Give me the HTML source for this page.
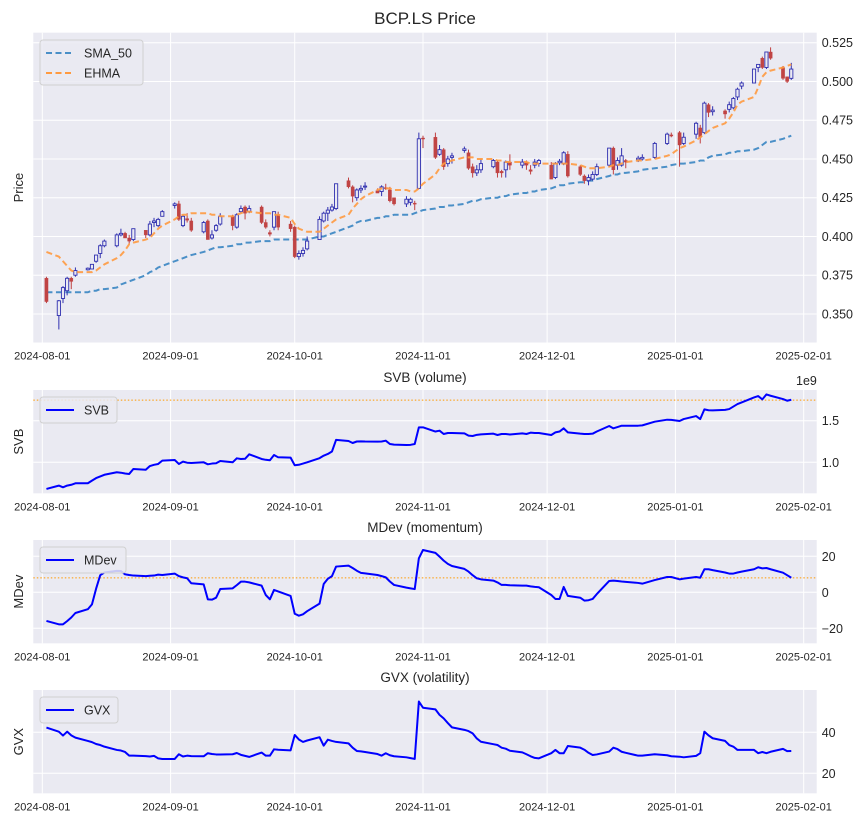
<!DOCTYPE html>
<html><head><meta charset="utf-8"><title>BCP.LS Price</title>
<style>
html,body{margin:0;padding:0;background:#fff;}
svg{display:block;font-family:"Liberation Sans",sans-serif;}
</style></head>
<body>
<svg id="chart" width="864" height="826" viewBox="0 0 864 826" xmlns="http://www.w3.org/2000/svg"></svg>
<script>
const dayOffsets=[1,4,5,6,7,8,11,12,13,14,15,18,19,20,21,22,25,26,27,28,29,32,33,34,35,36,39,40,41,42,43,46,47,48,49,50,53,54,55,56,57,60,61,62,63,64,67,68,69,70,71,74,75,76,77,78,81,82,83,84,85,88,89,90,91,92,95,96,97,98,99,102,103,104,105,106,109,110,111,112,113,116,117,118,119,120,123,124,125,126,127,130,131,132,133,134,137,138,139,140,141,144,145,148,151,152,154,155,158,159,160,161,162,165,166,167,168,169,172,173,174,175,176,179,180,181];
const openP=[.373,.349,.360,.365,.373,.375,.3785,.379,.384,.389,.394,.394,.401,.402,.399,.398,.404,.401,.409,.407,.413,.420,.421,.407,.4115,.410,.403,.410,.399,.404,.408,.413,.406,.416,.419,.416,.419,.409,.4025,.406,.414,.408,.406,.387,.389,.392,.398,.410,.415,.417,.418,.436,.432,.425,.430,.432,.4295,.429,.4315,.430,.425,.421,.422,.4215,.431,.4635,.464,.453,.456,.447,.451,.4555,.454,.445,.441,.443,.445,.448,.442,.443,.448,.446,.448,.443,.446,.447,.446,.438,.4475,.447,.453,.445,.439,.436,.437,.440,.446,.457,.446,.446,.449,.4495,.450,.451,.460,.4655,.467,.460,.466,.470,.467,.485,.4805,.481,.482,.483,.490,.497,.499,.509,.515,.509,.519,.509,.503,.502];
const closeP=[.358,.3585,.367,.373,.371,.378,.3795,.382,.388,.394,.397,.401,.402,.399,.397,.405,.401,.408,.410,.411,.416,.421,.411,.413,.4105,.404,.409,.398,.401,.407,.413,.407,.414,.418,.415,.418,.409,.406,.4015,.416,.406,.405,.387,.389,.391,.397,.411,.415,.417,.419,.434,.432,.426,.430,.431,.4325,.428,.432,.431,.423,.421,.424,.424,.421,.463,.463,.451,.456,.445,.450,.452,.4565,.444,.441,.443,.447,.449,.441,.441,.448,.446,.448,.446,.442,.448,.449,.437,.447,.4485,.454,.439,.440,.436,.438,.440,.445,.457,.443,.449,.452,.448,.4505,.451,.460,.466,.4648,.459,.464,.473,.464,.486,.480,.4815,.479,.485,.489,.495,.499,.508,.511,.509,.519,.515,.502,.500,.508];
const highP=[.374,.359,.368,.374,.374,.380,.380,.382,.388,.395,.398,.402,.405,.403,.401,.405,.404,.410,.412,.412,.417,.422,.423,.414,.415,.412,.410,.411,.404,.408,.415,.414,.415,.420,.420,.420,.420,.411,.404,.416,.416,.410,.407,.391,.393,.400,.413,.416,.419,.421,.434,.438,.433,.431,.433,.435,.431,.433,.434,.432,.425,.426,.425,.423,.467,.465,.467,.459,.457,.452,.454,.458,.456,.447,.446,.450,.450,.449,.443,.449,.453,.450,.449,.446,.450,.450,.448,.448,.450,.455,.455,.446,.440,.440,.442,.447,.457,.458,.451,.457,.450,.452,.453,.461,.467,.467,.468,.467,.474,.472,.487,.486,.484,.482,.487,.490,.496,.500,.508,.511,.516,.519,.522,.510,.503,.512];
const lowP=[.357,.340,.357,.362,.366,.374,.378,.379,.383,.386,.393,.393,.400,.399,.395,.397,.399,.400,.406,.406,.413,.418,.410,.406,.409,.403,.402,.398,.398,.403,.407,.404,.405,.415,.411,.415,.408,.405,.400,.404,.404,.403,.386,.385,.387,.391,.398,.409,.410,.416,.417,.431,.422,.423,.428,.430,.428,.426,.430,.422,.420,.419,.420,.417,.431,.457,.450,.452,.443,.445,.447,.454,.443,.438,.439,.441,.444,.438,.438,.438,.443,.444,.443,.440,.444,.445,.437,.437,.446,.446,.438,.439,.434,.433,.436,.439,.445,.440,.443,.445,.444,.448,.449,.450,.459,.464,.445,.459,.463,.460,.466,.477,.478,.476,.480,.482,.488,.495,.499,.506,.508,.508,.514,.501,.499,.501];
const sma50=[.364,.364,.364,.364,.364,.364,.364,.365,.365,.366,.366,.367,.369,.370,.371,.372,.375,.377,.378,.380,.381,.384,.385,.386,.387,.388,.390,.391,.392,.393,.393,.394,.395,.395,.396,.396,.397,.397,.397,.398,.398,.398,.398,.398,.398,.398,.400,.400,.401,.402,.403,.406,.407,.409,.410,.410,.412,.412,.413,.413,.414,.414,.414,.415,.416,.417,.418,.419,.419,.420,.420,.421,.422,.423,.423,.424,.425,.425,.426,.426,.427,.428,.428,.429,.429,.430,.431,.432,.433,.433,.434,.435,.435,.436,.436,.437,.439,.440,.440,.441,.441,.442,.443,.444,.445,.446,.447,.447,.448,.449,.449,.451,.452,.453,.454,.454,.455,.455,.456,.457,.459,.461,.461,.463,.464,.465];
const ehma=[.390,.387,.384,.381,.378,.377,.377,.377,.378,.380,.382,.386,.388,.391,.395,.396,.398,.399,.402,.405,.407,.411,.413,.414,.414,.415,.415,.415,.414,.414,.413,.413,.414,.415,.416,.416,.415,.415,.415,.414,.414,.412,.408,.405,.404,.403,.403,.405,.407,.409,.411,.414,.418,.421,.424,.426,.430,.431,.431,.431,.430,.430,.429,.429,.431,.434,.440,.444,.447,.448,.449,.451,.451,.451,.450,.450,.450,.449,.449,.448,.448,.448,.448,.447,.447,.447,.447,.447,.447,.447,.447,.446,.445,.444,.444,.444,.445,.446,.446,.447,.448,.449,.449,.450,.452,.453,.457,.458,.462,.464,.466,.468,.470,.473,.476,.480,.485,.487,.490,.496,.503,.506,.507,.509,.510,.511];
const svb=[.68,.72,.70,.72,.73,.748,.748,.78,.81,.83,.85,.88,.875,.865,.86,.92,.91,.955,.97,.98,1.02,1.028,.98,1.008,.995,.992,1.00,.976,.985,.988,1.016,1.00,1.048,1.04,1.042,1.096,1.04,1.03,1.025,1.088,1.06,1.056,.964,.97,.985,1.0,1.05,1.08,1.10,1.13,1.27,1.256,1.232,1.25,1.252,1.25,1.248,1.25,1.26,1.22,1.212,1.208,1.21,1.22,1.42,1.42,1.37,1.38,1.34,1.352,1.352,1.348,1.32,1.316,1.33,1.336,1.344,1.328,1.34,1.34,1.334,1.348,1.34,1.356,1.352,1.352,1.328,1.36,1.37,1.408,1.36,1.344,1.34,1.34,1.344,1.37,1.436,1.408,1.424,1.44,1.44,1.44,1.444,1.488,1.512,1.51,1.496,1.52,1.556,1.52,1.636,1.626,1.624,1.63,1.64,1.67,1.70,1.72,1.78,1.796,1.756,1.816,1.80,1.76,1.74,1.752];
const svbRef=1.748;
const mdev=[-15.9,-17.8,-17.8,-16,-14,-11.5,-9.4,-6.7,2,9.5,11,11.9,11.8,10,9.6,9.3,9,9.2,9.3,9.8,9.6,10.4,9,8.3,7.8,5,4.4,-3.9,-4.1,-3,1.8,2.2,4,5.9,5.9,5.5,3.7,-1.5,-3.9,1.3,0.5,-2,-11.9,-13,-12.2,-10.5,-6.3,4.6,7.5,9,14.3,14.8,13.5,12,10.8,10.5,9.6,9,8.3,6,4.1,2.6,2.2,1.8,18.9,23.5,21.9,19.8,17.6,15.8,14.6,13,11.5,9.5,7.8,7.2,6.5,5.5,4.1,4.1,3.9,3.7,3.7,3.3,3,2.8,-1.5,-3.7,-3.7,3,-2,-3,-4.6,-4.4,-3.7,-1,6.3,6.5,6.3,6,5.8,5.2,4.8,6.8,8.5,8.5,7.2,7.6,8.5,8.1,12.8,12.8,12.3,11,10.4,10.4,11,11.5,12.8,13.9,13.3,13.5,12.8,10.9,9.5,8.1];
const mdevRef=8;
const gvx=[42.3,40.3,38.4,40.3,38.5,37.4,35.8,35.2,34.3,33.8,33,31.4,31.1,30.4,28.6,28.6,28.4,28.2,28.5,27.3,27,27,29.3,28.2,28.6,28.4,28.3,29.8,29.4,29.2,29.2,29.3,29.9,29,28.5,28,30.1,28.6,28.6,31.7,31.5,31.2,38.7,36.5,35.3,36,37.6,33.5,36.4,35.8,35.3,34.6,32.5,30.9,30.7,30.4,29.4,28.6,29.8,28.8,28.3,27.8,27.4,27,55,52,51.2,48.5,46.8,44.5,42.4,41.2,40.6,39.5,37,35.4,34.2,33.8,32.5,32,31,30.2,29.3,28.3,27.5,27.3,29.8,31.4,29.8,29.8,33.3,32.5,31.5,30,28.9,29.2,30.6,32.5,31.8,30.5,30,28.6,28.6,29.3,28.8,28.3,28.1,27.8,28.5,29.8,40.3,38.5,37.1,35.8,33.8,33,31.4,31.4,31.4,29.8,30.4,29.8,30.5,31.9,30.8,30.9];
const xTickLabels=["2024-08-01","2024-09-01","2024-10-01","2024-11-01","2024-12-01","2025-01-01","2025-02-01"];
const xTickDays=[0,31,61,92,122,153,184];
const priceTicks=[0.350,0.375,0.400,0.425,0.450,0.475,0.500,0.525];
const svbTicks=[1.0,1.5];
const mdevTicks=[-20,0,20];
const gvxTicks=[20,40];

const NS="http://www.w3.org/2000/svg";
const svg=document.getElementById('chart');
const PL=33.3, PR=816.7;
function xDay(d){return 42.3+d*4.138;}
function mk(tag,attrs,parent,text){const e=document.createElementNS(NS,tag);for(const k in attrs)e.setAttribute(k,attrs[k]);if(text!==undefined)e.textContent=text;(parent||svg).appendChild(e);return e;}

const panels=[
 {key:'price',top:32.7,bot:342.5,y:v=>42.7+(0.525-v)/0.025*38.75,ticks:priceTicks,fmt:v=>v.toFixed(3),ylabel:'Price',title:null},
 {key:'svb',top:390,bot:493.3,y:v=>420.7+(1.5-v)*83.2,ticks:svbTicks,fmt:v=>v.toFixed(1),ylabel:'SVB',title:'SVB (volume)'},
 {key:'mdev',top:540,bot:643.3,y:v=>592.3-v*1.8,ticks:mdevTicks,fmt:v=>v.toFixed(0).replace('-','\u2212'),ylabel:'MDev',title:'MDev (momentum)'},
 {key:'gvx',top:690,bot:793.3,y:v=>732.3-(v-40)*2.05,ticks:gvxTicks,fmt:v=>v.toFixed(0),ylabel:'GVX',title:'GVX (volatility)'}
];

const mt=mk('text',{x:425,y:24,'text-anchor':'middle','font-size':17,fill:'#262626'},svg,'BCP.LS Price');



panels.forEach(p=>{
  const g=mk('g',{});
  
  
  const bg=mk('rect',{x:PL,y:p.top,width:PR-PL,height:p.bot-p.top,fill:'#eaeaf2'},g);
  
  
  xTickDays.forEach((d,i)=>{
    const x=xDay(d);
    const gl=mk('line',{x1:x,x2:x,y1:p.top,y2:p.bot,stroke:'#fff','stroke-width':1},g);
    
    
    const t=mk('text',{x:x,y:p.bot+17,'text-anchor':'middle','font-size':11,fill:'#262626'},g,xTickLabels[i]);
    
    
  });
  p.ticks.forEach(v=>{
    const y=p.y(v);
    const gl=mk('line',{x1:PL,x2:PR,y1:y,y2:y,stroke:'#fff','stroke-width':1},g);
    
    
    const t=mk('text',{x:PR+5,y:y+4.5,'font-size':12.5,fill:'#262626'},g,p.fmt(v));
    
    
  });
  const cy=(p.top+p.bot)/2;
  const yl=mk('text',{x:0,y:0,transform:`translate(23,${cy}) rotate(-90)`,'text-anchor':'middle','font-size':13,fill:'#262626'},g,p.ylabel);
  
  
  if(p.title){
    const tt=mk('text',{x:425,y:p.top-8,'text-anchor':'middle','font-size':13.5,fill:'#262626'},g,p.title);
    
    
  }
  p.g=g;
});

// price panel
const pp=panels[0];
function linePath(vals,yf){return vals.map((v,i)=>(i?'L':'M')+xDay(dayOffsets[i]).toFixed(2)+','+yf(v).toFixed(2)).join(' ');}
const smaL=mk('path',{d:linePath(sma50,pp.y),fill:'none',stroke:'#4a8fc7','stroke-width':2,'stroke-dasharray':'6,3.5'},pp.g);


const candG=mk('g',{},pp.g);


dayOffsets.forEach((d,i)=>{
  const x=xDay(d);const o=openP[i],c=closeP[i];const up=c>=o;
  const col=up?'#3030b0':'#c04040';
  const w=mk('line',{x1:x,x2:x,y1:pp.y(highP[i]),y2:pp.y(lowP[i]),stroke:col,'stroke-width':1},candG);
  
  
  const yt=pp.y(Math.max(o,c)),yb=pp.y(Math.min(o,c));
  const r=mk('rect',{x:x-1.6,y:yt,width:3.2,height:Math.max(1,yb-yt),fill:up?'#eaeaf2':'#c04444',stroke:col,'stroke-width':up?0.9:0.4},candG);
  
  
});
const ehL=mk('path',{d:linePath(ehma,pp.y),fill:'none',stroke:'#ff9a40','stroke-width':2,'stroke-dasharray':'6,3.5','stroke-opacity':0.9},pp.g);



function legend(g,x,y,w,h,items,name){
  const lg=mk('g',{},g);
  
  
  mk('rect',{x:x,y:y,width:w,height:h,rx:3,fill:'#eaeaf2','fill-opacity':0.85,stroke:'#d0d0d0','stroke-width':1},lg);
  items.forEach((it,i)=>{
    const yy=y+13+i*20;
    const ln=mk('line',{x1:x+6,x2:x+34,y1:yy,y2:yy,stroke:it.c,'stroke-width':2,'stroke-dasharray':it.dash||'none'},lg);
    
    
    const t=mk('text',{x:x+44,y:yy+4.5,'font-size':12.5,fill:'#262626'},lg,it.t);
    
    
  });
}
legend(pp.g,40,40,103,45,[{t:'SMA_50',c:'#4a8fc7',dash:'6,3.5'},{t:'EHMA',c:'#ff9a40',dash:'6,3.5'}],'price-legend');

function simplePanel(p,vals,ref,name,lw){
  if(ref!==null){
    const rl=mk('line',{x1:PL,x2:PR,y1:p.y(ref),y2:p.y(ref),stroke:'#ff9900','stroke-width':1,'stroke-dasharray':'1.5,2'},p.g);
    
    
  }
  const l=mk('path',{d:linePath(vals,p.y),fill:'none',stroke:'#0000ff','stroke-width':2,'stroke-linejoin':'round'},p.g);
  
  
  legend(p.g,40,p.top+7,lw,26,[{t:name,c:'#0000ff'}],p.key+'-legend');
}
simplePanel(panels[1],svb,svbRef,'SVB',77);
simplePanel(panels[2],mdev,mdevRef,'MDev',86);
simplePanel(panels[3],gvx,null,'GVX',78);
const ex=mk('text',{x:796,y:385,'font-size':12.5,fill:'#262626'},panels[1].g,'1e9');


</script>
</body></html>
